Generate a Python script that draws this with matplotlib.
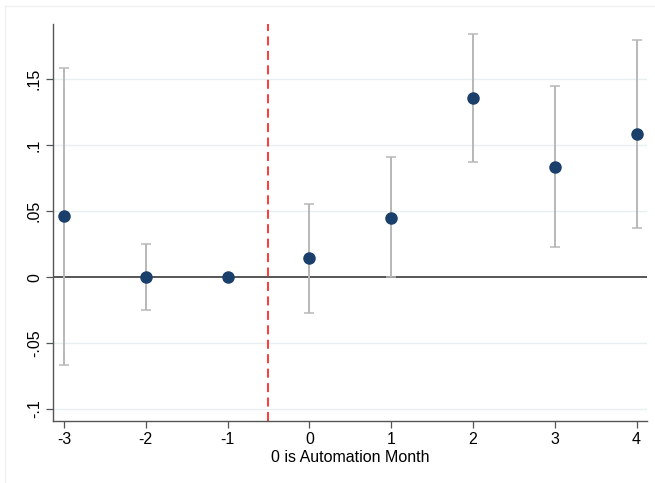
import numpy as np
import matplotlib.pyplot as plt
from matplotlib.lines import Line2D

plt.rcParams['font.family'] = ['Liberation Sans', 'DejaVu Sans']

months = [-3, -2, -1, 0, 1, 2, 3, 4]
coef = [0.046, 0.0, 0.0, 0.0142, 0.0449, 0.1356, 0.0836, 0.1083]
ci_low = [-0.0667, -0.025, 0.0, -0.0275, 0.0, 0.0871, 0.023, 0.0374]
ci_high = [0.158, 0.025, 0.0, 0.0555, 0.0909, 0.1843, 0.1444, 0.1795]
yticks = [-0.1, -0.05, 0, 0.05, 0.1, 0.15]
ylabels = ['-.1', '-.05', '0', '.05', '.1', '.15']

fig = plt.figure(figsize=(6.55, 4.83), dpi=100)
ax = fig.add_axes([0.0809, 0.1284, 0.9069, 0.8219])

# faint outer frame (top/left) like the screenshot
fig.add_artist(Line2D([5/655, 1], [1 - 6/483, 1 - 6/483], color='#f0f0f0', lw=1))
fig.add_artist(Line2D([5/655, 5/655], [0, 1 - 6/483], color='#f0f0f0', lw=1))

for y in yticks:
    if y != 0:
        ax.axhline(y, color='#e6eef0', lw=0.9, zorder=0)
ax.axhline(0, color='#3a3a3a', lw=1.2, zorder=1)
ax.axvline(-0.5, color='#ff2a2a', lw=1.3, ls=(0, (5, 3)), zorder=1)

c = np.array(coef)
lo = c - np.array(ci_low)
hi = np.array(ci_high) - c
for i, m in enumerate(months):
    if ci_high[i] - ci_low[i] > 0:
        ax.errorbar(m, coef[i], yerr=[[lo[i]], [hi[i]]], fmt='none',
                    ecolor='#b8b8b8', elinewidth=1.4, capsize=3.5, capthick=1.1, zorder=2)
ax.plot(months, coef, 'o', color='#1a3f6b', markersize=8, ls='none', zorder=3)

ax.set_xlim(-3.134, 4.128)
ax.set_ylim(-0.109, 0.1917)
ax.set_xticks(months)
ax.set_xticklabels([str(m) for m in months])
ax.set_yticks(yticks)
ax.set_yticklabels(ylabels, rotation=90, va='center')
ax.set_xlabel('0 is Automation Month', fontsize=11.5, labelpad=2)

for s in ['top', 'right']:
    ax.spines[s].set_visible(False)
for s in ['left', 'bottom']:
    ax.spines[s].set_color('#555555')
    ax.spines[s].set_linewidth(1.0)
ax.tick_params(axis='both', colors='#555555', labelcolor='black', labelsize=11.5,
               length=5, width=0.9, pad=3)

fig.savefig('out.png', dpi=100)
